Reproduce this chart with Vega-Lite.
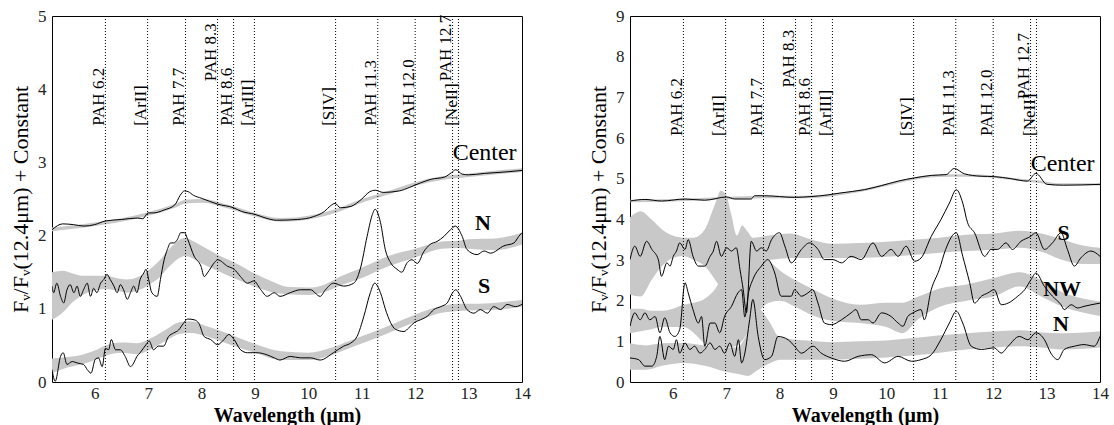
{
  "$schema": "https://vega.github.io/schema/vega-lite/v6.json",
  "padding": {"left": 9, "top": 6, "right": 5, "bottom": 0},
  "spacing": 56,
  "config": {
    "view": {"stroke": "#000", "strokeWidth": 1},
    "font": "Liberation Serif",
    "axis": {
      "labelFont": "Liberation Serif", "labelFontSize": 17, "labelColor": "#222",
      "titleFont": "Liberation Serif", "titleColor": "#000",
      "grid": false, "domain": false, "tickColor": "#000", "tickWidth": 1, "tickSize": 0,
      "minExtent": 0, "labelOverlap": false, "labelFlush": false, "zindex": 1
    }
  },
  "datasets": {
    "LS": [
      {"s":"Center","x":5.2,"y":2.08},{"s":"Center","x":5.4,"y":2.16},{"s":"Center","x":5.6,"y":2.15},{"s":"Center","x":5.8,"y":2.13},{"s":"Center","x":6.0,"y":2.15},{"s":"Center","x":6.2,"y":2.2},{"s":"Center","x":6.5,"y":2.22},{"s":"Center","x":6.8,"y":2.24},{"s":"Center","x":6.9,"y":2.23},{"s":"Center","x":7.0,"y":2.31},{"s":"Center","x":7.1,"y":2.31},{"s":"Center","x":7.3,"y":2.35},{"s":"Center","x":7.5,"y":2.42},{"s":"Center","x":7.6,"y":2.55},{"s":"Center","x":7.68,"y":2.61},{"s":"Center","x":7.75,"y":2.6},{"s":"Center","x":7.85,"y":2.55},{"s":"Center","x":8.0,"y":2.51},{"s":"Center","x":8.3,"y":2.43},{"s":"Center","x":8.6,"y":2.38},{"s":"Center","x":8.75,"y":2.33},{"s":"Center","x":9.0,"y":2.29},{"s":"Center","x":9.2,"y":2.24},{"s":"Center","x":9.4,"y":2.21},{"s":"Center","x":9.8,"y":2.22},{"s":"Center","x":10.1,"y":2.26},{"s":"Center","x":10.3,"y":2.33},{"s":"Center","x":10.42,"y":2.41},{"s":"Center","x":10.5,"y":2.44},{"s":"Center","x":10.6,"y":2.38},{"s":"Center","x":10.8,"y":2.4},{"s":"Center","x":11.0,"y":2.5},{"s":"Center","x":11.15,"y":2.6},{"s":"Center","x":11.25,"y":2.62},{"s":"Center","x":11.4,"y":2.59},{"s":"Center","x":11.7,"y":2.61},{"s":"Center","x":11.9,"y":2.66},{"s":"Center","x":12.1,"y":2.72},{"s":"Center","x":12.3,"y":2.77},{"s":"Center","x":12.55,"y":2.8},{"s":"Center","x":12.68,"y":2.86},{"s":"Center","x":12.76,"y":2.9},{"s":"Center","x":12.88,"y":2.84},{"s":"Center","x":13.0,"y":2.83},{"s":"Center","x":13.3,"y":2.85},{"s":"Center","x":13.7,"y":2.87},{"s":"Center","x":14.0,"y":2.89},
      {"s":"N","x":5.2,"y":1.31},{"s":"N","x":5.23,"y":1.22},{"s":"N","x":5.29,"y":1.35},{"s":"N","x":5.36,"y":1.17},{"s":"N","x":5.42,"y":1.08},{"s":"N","x":5.48,"y":1.26},{"s":"N","x":5.54,"y":1.33},{"s":"N","x":5.61,"y":1.22},{"s":"N","x":5.67,"y":1.31},{"s":"N","x":5.73,"y":1.17},{"s":"N","x":5.79,"y":1.26},{"s":"N","x":5.86,"y":1.35},{"s":"N","x":5.92,"y":1.17},{"s":"N","x":5.98,"y":1.28},{"s":"N","x":6.04,"y":1.22},{"s":"N","x":6.11,"y":1.35},{"s":"N","x":6.17,"y":1.4},{"s":"N","x":6.23,"y":1.47},{"s":"N","x":6.29,"y":1.4},{"s":"N","x":6.36,"y":1.31},{"s":"N","x":6.42,"y":1.22},{"s":"N","x":6.48,"y":1.33},{"s":"N","x":6.54,"y":1.26},{"s":"N","x":6.61,"y":1.13},{"s":"N","x":6.67,"y":1.22},{"s":"N","x":6.73,"y":1.31},{"s":"N","x":6.79,"y":1.22},{"s":"N","x":6.85,"y":1.4},{"s":"N","x":6.92,"y":1.49},{"s":"N","x":6.96,"y":1.54},{"s":"N","x":7.01,"y":1.4},{"s":"N","x":7.07,"y":1.22},{"s":"N","x":7.17,"y":1.17},{"s":"N","x":7.23,"y":1.4},{"s":"N","x":7.3,"y":1.67},{"s":"N","x":7.36,"y":1.81},{"s":"N","x":7.42,"y":1.9},{"s":"N","x":7.48,"y":1.9},{"s":"N","x":7.55,"y":1.95},{"s":"N","x":7.61,"y":2.04},{"s":"N","x":7.68,"y":2.04},{"s":"N","x":7.74,"y":1.95},{"s":"N","x":7.86,"y":1.72},{"s":"N","x":7.99,"y":1.58},{"s":"N","x":8.05,"y":1.44},{"s":"N","x":8.11,"y":1.49},{"s":"N","x":8.24,"y":1.63},{"s":"N","x":8.3,"y":1.67},{"s":"N","x":8.49,"y":1.58},{"s":"N","x":8.61,"y":1.54},{"s":"N","x":8.73,"y":1.44},{"s":"N","x":8.86,"y":1.35},{"s":"N","x":8.98,"y":1.38},{"s":"N","x":9.11,"y":1.26},{"s":"N","x":9.23,"y":1.17},{"s":"N","x":9.36,"y":1.22},{"s":"N","x":9.47,"y":1.17},{"s":"N","x":9.66,"y":1.22},{"s":"N","x":9.85,"y":1.26},{"s":"N","x":10.04,"y":1.26},{"s":"N","x":10.22,"y":1.17},{"s":"N","x":10.32,"y":1.26},{"s":"N","x":10.47,"y":1.35},{"s":"N","x":10.66,"y":1.31},{"s":"N","x":10.85,"y":1.35},{"s":"N","x":10.97,"y":1.54},{"s":"N","x":11.1,"y":1.99},{"s":"N","x":11.19,"y":2.27},{"s":"N","x":11.25,"y":2.36},{"s":"N","x":11.35,"y":2.18},{"s":"N","x":11.44,"y":1.81},{"s":"N","x":11.54,"y":1.63},{"s":"N","x":11.66,"y":1.54},{"s":"N","x":11.75,"y":1.5},{"s":"N","x":11.85,"y":1.63},{"s":"N","x":11.94,"y":1.67},{"s":"N","x":12.04,"y":1.62},{"s":"N","x":12.16,"y":1.78},{"s":"N","x":12.28,"y":1.88},{"s":"N","x":12.41,"y":1.92},{"s":"N","x":12.54,"y":1.99},{"s":"N","x":12.66,"y":2.08},{"s":"N","x":12.75,"y":2.13},{"s":"N","x":12.88,"y":1.99},{"s":"N","x":12.97,"y":1.81},{"s":"N","x":13.16,"y":1.74},{"s":"N","x":13.29,"y":1.79},{"s":"N","x":13.41,"y":1.76},{"s":"N","x":13.66,"y":1.86},{"s":"N","x":13.85,"y":1.9},{"s":"N","x":13.94,"y":1.99},{"s":"N","x":14.0,"y":2.04},
      {"s":"S","x":5.2,"y":0.17},{"s":"S","x":5.26,"y":0.01},{"s":"S","x":5.36,"y":0.35},{"s":"S","x":5.41,"y":0.4},{"s":"S","x":5.48,"y":0.24},{"s":"S","x":5.58,"y":0.28},{"s":"S","x":5.67,"y":0.26},{"s":"S","x":5.79,"y":0.24},{"s":"S","x":5.86,"y":0.17},{"s":"S","x":5.93,"y":0.12},{"s":"S","x":6.01,"y":0.31},{"s":"S","x":6.07,"y":0.33},{"s":"S","x":6.14,"y":0.21},{"s":"S","x":6.2,"y":0.46},{"s":"S","x":6.26,"y":0.44},{"s":"S","x":6.31,"y":0.58},{"s":"S","x":6.39,"y":0.44},{"s":"S","x":6.48,"y":0.44},{"s":"S","x":6.57,"y":0.35},{"s":"S","x":6.67,"y":0.21},{"s":"S","x":6.73,"y":0.26},{"s":"S","x":6.79,"y":0.35},{"s":"S","x":6.85,"y":0.4},{"s":"S","x":6.96,"y":0.51},{"s":"S","x":7.02,"y":0.56},{"s":"S","x":7.1,"y":0.44},{"s":"S","x":7.19,"y":0.49},{"s":"S","x":7.29,"y":0.49},{"s":"S","x":7.38,"y":0.62},{"s":"S","x":7.48,"y":0.67},{"s":"S","x":7.57,"y":0.71},{"s":"S","x":7.66,"y":0.8},{"s":"S","x":7.74,"y":0.86},{"s":"S","x":7.86,"y":0.85},{"s":"S","x":7.95,"y":0.8},{"s":"S","x":8.05,"y":0.62},{"s":"S","x":8.17,"y":0.58},{"s":"S","x":8.3,"y":0.51},{"s":"S","x":8.42,"y":0.58},{"s":"S","x":8.51,"y":0.65},{"s":"S","x":8.61,"y":0.58},{"s":"S","x":8.73,"y":0.44},{"s":"S","x":8.86,"y":0.4},{"s":"S","x":9.04,"y":0.4},{"s":"S","x":9.23,"y":0.37},{"s":"S","x":9.36,"y":0.33},{"s":"S","x":9.47,"y":0.3},{"s":"S","x":9.66,"y":0.35},{"s":"S","x":9.85,"y":0.33},{"s":"S","x":10.04,"y":0.33},{"s":"S","x":10.22,"y":0.3},{"s":"S","x":10.47,"y":0.4},{"s":"S","x":10.66,"y":0.49},{"s":"S","x":10.79,"y":0.53},{"s":"S","x":10.91,"y":0.62},{"s":"S","x":11.04,"y":0.9},{"s":"S","x":11.16,"y":1.22},{"s":"S","x":11.24,"y":1.35},{"s":"S","x":11.35,"y":1.22},{"s":"S","x":11.44,"y":1.0},{"s":"S","x":11.54,"y":0.81},{"s":"S","x":11.63,"y":0.72},{"s":"S","x":11.79,"y":0.69},{"s":"S","x":11.88,"y":0.74},{"s":"S","x":11.98,"y":0.81},{"s":"S","x":12.1,"y":0.85},{"s":"S","x":12.23,"y":0.9},{"s":"S","x":12.35,"y":0.99},{"s":"S","x":12.48,"y":1.03},{"s":"S","x":12.6,"y":1.08},{"s":"S","x":12.7,"y":1.22},{"s":"S","x":12.76,"y":1.26},{"s":"S","x":12.85,"y":1.17},{"s":"S","x":12.97,"y":0.99},{"s":"S","x":13.1,"y":0.94},{"s":"S","x":13.22,"y":0.99},{"s":"S","x":13.35,"y":0.94},{"s":"S","x":13.47,"y":1.03},{"s":"S","x":13.6,"y":0.99},{"s":"S","x":13.72,"y":1.06},{"s":"S","x":13.88,"y":1.03},{"s":"S","x":14.0,"y":1.06}
    ],
    "LB": [
      {"s":"Center","x":5.2,"lo":2.06,"hi":2.11},{"s":"Center","x":6.0,"lo":2.13,"hi":2.18},{"s":"Center","x":7.0,"lo":2.27,"hi":2.32},{"s":"Center","x":7.5,"lo":2.38,"hi":2.43},{"s":"Center","x":7.7,"lo":2.44,"hi":2.49},{"s":"Center","x":8.0,"lo":2.45,"hi":2.5},{"s":"Center","x":8.5,"lo":2.37,"hi":2.42},{"s":"Center","x":9.0,"lo":2.26,"hi":2.31},{"s":"Center","x":9.5,"lo":2.19,"hi":2.24},{"s":"Center","x":10.0,"lo":2.22,"hi":2.27},{"s":"Center","x":10.5,"lo":2.31,"hi":2.36},{"s":"Center","x":11.0,"lo":2.45,"hi":2.5},{"s":"Center","x":11.5,"lo":2.56,"hi":2.61},{"s":"Center","x":12.0,"lo":2.68,"hi":2.73},{"s":"Center","x":12.5,"lo":2.76,"hi":2.81},{"s":"Center","x":13.0,"lo":2.8,"hi":2.85},{"s":"Center","x":14.0,"lo":2.87,"hi":2.92},
      {"s":"N","x":5.2,"lo":0.85,"hi":1.5},{"s":"N","x":5.4,"lo":0.95,"hi":1.52},{"s":"N","x":5.6,"lo":1.1,"hi":1.48},{"s":"N","x":5.8,"lo":1.2,"hi":1.45},{"s":"N","x":6.0,"lo":1.25,"hi":1.45},{"s":"N","x":6.2,"lo":1.27,"hi":1.45},{"s":"N","x":6.4,"lo":1.25,"hi":1.42},{"s":"N","x":6.6,"lo":1.22,"hi":1.4},{"s":"N","x":6.8,"lo":1.25,"hi":1.43},{"s":"N","x":7.0,"lo":1.32,"hi":1.52},{"s":"N","x":7.2,"lo":1.42,"hi":1.65},{"s":"N","x":7.4,"lo":1.58,"hi":1.82},{"s":"N","x":7.6,"lo":1.7,"hi":1.95},{"s":"N","x":7.7,"lo":1.72,"hi":1.97},{"s":"N","x":7.8,"lo":1.7,"hi":1.94},{"s":"N","x":8.0,"lo":1.62,"hi":1.86},{"s":"N","x":8.3,"lo":1.52,"hi":1.74},{"s":"N","x":8.6,"lo":1.42,"hi":1.64},{"s":"N","x":9.0,"lo":1.3,"hi":1.48},{"s":"N","x":9.3,"lo":1.23,"hi":1.38},{"s":"N","x":9.6,"lo":1.2,"hi":1.3},{"s":"N","x":10.0,"lo":1.19,"hi":1.29},{"s":"N","x":10.3,"lo":1.23,"hi":1.33},{"s":"N","x":10.6,"lo":1.32,"hi":1.44},{"s":"N","x":11.0,"lo":1.42,"hi":1.56},{"s":"N","x":11.5,"lo":1.58,"hi":1.72},{"s":"N","x":12.0,"lo":1.7,"hi":1.82},{"s":"N","x":12.5,"lo":1.82,"hi":1.92},{"s":"N","x":12.8,"lo":1.83,"hi":1.93},{"s":"N","x":13.0,"lo":1.82,"hi":1.95},{"s":"N","x":13.5,"lo":1.8,"hi":1.96},{"s":"N","x":14.0,"lo":1.88,"hi":2.04},
      {"s":"S","x":5.2,"lo":0.12,"hi":0.32},{"s":"S","x":5.5,"lo":0.2,"hi":0.34},{"s":"S","x":5.8,"lo":0.25,"hi":0.38},{"s":"S","x":6.0,"lo":0.3,"hi":0.43},{"s":"S","x":6.2,"lo":0.36,"hi":0.5},{"s":"S","x":6.5,"lo":0.4,"hi":0.54},{"s":"S","x":6.8,"lo":0.38,"hi":0.53},{"s":"S","x":7.0,"lo":0.43,"hi":0.58},{"s":"S","x":7.3,"lo":0.55,"hi":0.7},{"s":"S","x":7.6,"lo":0.66,"hi":0.82},{"s":"S","x":7.8,"lo":0.67,"hi":0.83},{"s":"S","x":8.1,"lo":0.62,"hi":0.76},{"s":"S","x":8.5,"lo":0.52,"hi":0.66},{"s":"S","x":9.0,"lo":0.4,"hi":0.52},{"s":"S","x":9.5,"lo":0.3,"hi":0.42},{"s":"S","x":10.0,"lo":0.3,"hi":0.4},{"s":"S","x":10.4,"lo":0.36,"hi":0.46},{"s":"S","x":10.8,"lo":0.47,"hi":0.57},{"s":"S","x":11.2,"lo":0.58,"hi":0.68},{"s":"S","x":11.6,"lo":0.7,"hi":0.8},{"s":"S","x":12.0,"lo":0.82,"hi":0.92},{"s":"S","x":12.4,"lo":0.93,"hi":1.02},{"s":"S","x":12.8,"lo":0.97,"hi":1.07},{"s":"S","x":13.2,"lo":0.98,"hi":1.07},{"s":"S","x":13.6,"lo":0.99,"hi":1.09},{"s":"S","x":14.0,"lo":1.03,"hi":1.12}
    ],
    "RS": [
      {"s":"Center","x":5.2,"y":4.45},{"s":"Center","x":5.48,"y":4.49},{"s":"Center","x":5.79,"y":4.45},{"s":"Center","x":6.23,"y":4.5},{"s":"Center","x":6.6,"y":4.47},{"s":"Center","x":7.01,"y":4.55},{"s":"Center","x":7.16,"y":4.5},{"s":"Center","x":7.47,"y":4.5},{"s":"Center","x":7.53,"y":4.58},{"s":"Center","x":7.72,"y":4.58},{"s":"Center","x":8.28,"y":4.54},{"s":"Center","x":8.59,"y":4.56},{"s":"Center","x":8.9,"y":4.6},{"s":"Center","x":9.15,"y":4.65},{"s":"Center","x":9.59,"y":4.73},{"s":"Center","x":9.91,"y":4.83},{"s":"Center","x":10.22,"y":4.94},{"s":"Center","x":10.53,"y":5.02},{"s":"Center","x":10.84,"y":5.08},{"s":"Center","x":11.12,"y":5.1},{"s":"Center","x":11.27,"y":5.25},{"s":"Center","x":11.46,"y":5.12},{"s":"Center","x":11.77,"y":5.06},{"s":"Center","x":12.02,"y":5.05},{"s":"Center","x":12.33,"y":5.0},{"s":"Center","x":12.64,"y":4.94},{"s":"Center","x":12.8,"y":5.13},{"s":"Center","x":13.01,"y":4.86},{"s":"Center","x":13.32,"y":4.84},{"s":"Center","x":14.0,"y":4.86},
      {"s":"S","x":5.2,"y":3.01},{"s":"S","x":5.29,"y":3.34},{"s":"S","x":5.39,"y":3.09},{"s":"S","x":5.51,"y":3.46},{"s":"S","x":5.61,"y":3.26},{"s":"S","x":5.73,"y":3.01},{"s":"S","x":5.79,"y":2.6},{"s":"S","x":5.89,"y":2.93},{"s":"S","x":5.95,"y":2.85},{"s":"S","x":6.01,"y":3.09},{"s":"S","x":6.07,"y":3.22},{"s":"S","x":6.13,"y":3.42},{"s":"S","x":6.23,"y":3.26},{"s":"S","x":6.29,"y":3.5},{"s":"S","x":6.38,"y":3.09},{"s":"S","x":6.48,"y":2.85},{"s":"S","x":6.6,"y":2.85},{"s":"S","x":6.7,"y":3.09},{"s":"S","x":6.76,"y":3.22},{"s":"S","x":6.82,"y":3.46},{"s":"S","x":6.91,"y":3.09},{"s":"S","x":7.01,"y":3.3},{"s":"S","x":7.1,"y":3.22},{"s":"S","x":7.19,"y":3.3},{"s":"S","x":7.26,"y":2.76},{"s":"S","x":7.32,"y":2.27},{"s":"S","x":7.38,"y":1.7},{"s":"S","x":7.47,"y":3.46},{"s":"S","x":7.57,"y":3.22},{"s":"S","x":7.66,"y":3.3},{"s":"S","x":7.75,"y":3.22},{"s":"S","x":7.85,"y":3.5},{"s":"S","x":8.0,"y":3.67},{"s":"S","x":8.1,"y":3.34},{"s":"S","x":8.22,"y":2.93},{"s":"S","x":8.41,"y":3.26},{"s":"S","x":8.56,"y":3.42},{"s":"S","x":8.72,"y":3.26},{"s":"S","x":8.84,"y":3.01},{"s":"S","x":9.0,"y":3.01},{"s":"S","x":9.16,"y":2.93},{"s":"S","x":9.34,"y":3.09},{"s":"S","x":9.53,"y":3.01},{"s":"S","x":9.75,"y":3.42},{"s":"S","x":9.91,"y":3.09},{"s":"S","x":10.09,"y":3.26},{"s":"S","x":10.22,"y":3.09},{"s":"S","x":10.37,"y":3.34},{"s":"S","x":10.53,"y":2.97},{"s":"S","x":10.65,"y":3.05},{"s":"S","x":10.84,"y":3.58},{"s":"S","x":11.02,"y":3.99},{"s":"S","x":11.18,"y":4.4},{"s":"S","x":11.31,"y":4.73},{"s":"S","x":11.43,"y":4.4},{"s":"S","x":11.52,"y":3.92},{"s":"S","x":11.65,"y":3.67},{"s":"S","x":11.84,"y":3.09},{"s":"S","x":11.96,"y":3.26},{"s":"S","x":12.08,"y":3.26},{"s":"S","x":12.24,"y":3.42},{"s":"S","x":12.36,"y":3.26},{"s":"S","x":12.52,"y":3.46},{"s":"S","x":12.7,"y":3.58},{"s":"S","x":12.8,"y":3.67},{"s":"S","x":12.96,"y":3.26},{"s":"S","x":13.11,"y":3.42},{"s":"S","x":13.27,"y":3.67},{"s":"S","x":13.39,"y":3.26},{"s":"S","x":13.52,"y":2.85},{"s":"S","x":13.64,"y":3.05},{"s":"S","x":13.83,"y":3.22},{"s":"S","x":14.0,"y":3.09},
      {"s":"NW","x":5.2,"y":1.37},{"s":"NW","x":5.29,"y":1.7},{"s":"NW","x":5.39,"y":1.53},{"s":"NW","x":5.48,"y":1.7},{"s":"NW","x":5.57,"y":1.53},{"s":"NW","x":5.67,"y":1.61},{"s":"NW","x":5.76,"y":1.21},{"s":"NW","x":5.85,"y":1.58},{"s":"NW","x":5.95,"y":1.21},{"s":"NW","x":6.04,"y":1.12},{"s":"NW","x":6.13,"y":1.29},{"s":"NW","x":6.23,"y":2.44},{"s":"NW","x":6.29,"y":2.19},{"s":"NW","x":6.38,"y":1.78},{"s":"NW","x":6.48,"y":1.45},{"s":"NW","x":6.54,"y":1.61},{"s":"NW","x":6.6,"y":0.88},{"s":"NW","x":6.7,"y":1.45},{"s":"NW","x":6.79,"y":1.45},{"s":"NW","x":6.88,"y":1.21},{"s":"NW","x":6.97,"y":1.61},{"s":"NW","x":7.1,"y":1.86},{"s":"NW","x":7.22,"y":2.19},{"s":"NW","x":7.29,"y":2.27},{"s":"NW","x":7.35,"y":1.6},{"s":"NW","x":7.42,"y":2.2},{"s":"NW","x":7.5,"y":2.52},{"s":"NW","x":7.66,"y":2.85},{"s":"NW","x":7.78,"y":3.01},{"s":"NW","x":7.91,"y":2.68},{"s":"NW","x":8.03,"y":2.11},{"s":"NW","x":8.22,"y":2.11},{"s":"NW","x":8.28,"y":2.27},{"s":"NW","x":8.41,"y":2.11},{"s":"NW","x":8.53,"y":2.19},{"s":"NW","x":8.62,"y":2.27},{"s":"NW","x":8.72,"y":1.94},{"s":"NW","x":8.84,"y":1.45},{"s":"NW","x":8.97,"y":1.41},{"s":"NW","x":9.16,"y":1.53},{"s":"NW","x":9.34,"y":1.7},{"s":"NW","x":9.43,"y":1.78},{"s":"NW","x":9.53,"y":1.53},{"s":"NW","x":9.66,"y":1.53},{"s":"NW","x":9.75,"y":1.45},{"s":"NW","x":9.91,"y":1.7},{"s":"NW","x":10.09,"y":1.61},{"s":"NW","x":10.22,"y":1.45},{"s":"NW","x":10.31,"y":1.37},{"s":"NW","x":10.4,"y":1.61},{"s":"NW","x":10.5,"y":1.7},{"s":"NW","x":10.65,"y":1.78},{"s":"NW","x":10.71,"y":1.53},{"s":"NW","x":10.84,"y":2.27},{"s":"NW","x":10.99,"y":2.76},{"s":"NW","x":11.11,"y":3.26},{"s":"NW","x":11.31,"y":3.67},{"s":"NW","x":11.43,"y":3.09},{"s":"NW","x":11.56,"y":2.44},{"s":"NW","x":11.65,"y":1.94},{"s":"NW","x":11.78,"y":2.11},{"s":"NW","x":11.9,"y":2.19},{"s":"NW","x":12.02,"y":2.27},{"s":"NW","x":12.15,"y":1.9},{"s":"NW","x":12.28,"y":1.94},{"s":"NW","x":12.46,"y":2.11},{"s":"NW","x":12.59,"y":2.27},{"s":"NW","x":12.71,"y":2.52},{"s":"NW","x":12.8,"y":2.68},{"s":"NW","x":12.96,"y":2.35},{"s":"NW","x":13.11,"y":2.11},{"s":"NW","x":13.27,"y":1.9},{"s":"NW","x":13.33,"y":1.78},{"s":"NW","x":13.46,"y":1.9},{"s":"NW","x":13.58,"y":1.82},{"s":"NW","x":13.7,"y":1.86},{"s":"NW","x":14.0,"y":1.94},
      {"s":"N","x":5.2,"y":0.59},{"s":"N","x":5.36,"y":0.55},{"s":"N","x":5.48,"y":0.39},{"s":"N","x":5.61,"y":0.39},{"s":"N","x":5.7,"y":0.63},{"s":"N","x":5.76,"y":1.12},{"s":"N","x":5.85,"y":0.55},{"s":"N","x":5.92,"y":0.88},{"s":"N","x":6.01,"y":0.8},{"s":"N","x":6.07,"y":1.04},{"s":"N","x":6.13,"y":0.71},{"s":"N","x":6.23,"y":0.96},{"s":"N","x":6.32,"y":0.8},{"s":"N","x":6.41,"y":0.88},{"s":"N","x":6.51,"y":0.71},{"s":"N","x":6.6,"y":0.8},{"s":"N","x":6.7,"y":0.96},{"s":"N","x":6.79,"y":0.8},{"s":"N","x":6.88,"y":0.88},{"s":"N","x":6.97,"y":0.71},{"s":"N","x":7.07,"y":0.96},{"s":"N","x":7.16,"y":0.63},{"s":"N","x":7.23,"y":1.04},{"s":"N","x":7.29,"y":0.47},{"s":"N","x":7.35,"y":0.71},{"s":"N","x":7.44,"y":1.53},{"s":"N","x":7.5,"y":2.03},{"s":"N","x":7.6,"y":1.12},{"s":"N","x":7.72,"y":0.55},{"s":"N","x":7.85,"y":0.63},{"s":"N","x":7.97,"y":1.12},{"s":"N","x":8.16,"y":1.04},{"s":"N","x":8.28,"y":0.88},{"s":"N","x":8.41,"y":0.71},{"s":"N","x":8.63,"y":0.88},{"s":"N","x":8.78,"y":0.71},{"s":"N","x":8.97,"y":0.59},{"s":"N","x":9.22,"y":0.51},{"s":"N","x":9.47,"y":0.63},{"s":"N","x":9.72,"y":0.67},{"s":"N","x":9.97,"y":0.47},{"s":"N","x":10.22,"y":0.63},{"s":"N","x":10.47,"y":0.51},{"s":"N","x":10.65,"y":0.55},{"s":"N","x":10.84,"y":0.67},{"s":"N","x":11.02,"y":1.04},{"s":"N","x":11.18,"y":1.45},{"s":"N","x":11.31,"y":1.74},{"s":"N","x":11.43,"y":1.45},{"s":"N","x":11.59,"y":0.88},{"s":"N","x":11.78,"y":0.8},{"s":"N","x":12.02,"y":0.84},{"s":"N","x":12.15,"y":0.71},{"s":"N","x":12.28,"y":0.88},{"s":"N","x":12.49,"y":1.12},{"s":"N","x":12.65,"y":1.04},{"s":"N","x":12.8,"y":1.21},{"s":"N","x":12.96,"y":1.04},{"s":"N","x":13.08,"y":0.71},{"s":"N","x":13.21,"y":0.55},{"s":"N","x":13.33,"y":0.8},{"s":"N","x":13.52,"y":0.88},{"s":"N","x":13.7,"y":0.92},{"s":"N","x":13.89,"y":0.88},{"s":"N","x":14.0,"y":1.12}
    ],
    "RB": [
      {"s":"Center","x":5.2,"lo":4.42,"hi":4.48},{"s":"Center","x":6.0,"lo":4.44,"hi":4.5},{"s":"Center","x":7.0,"lo":4.49,"hi":4.55},{"s":"Center","x":7.7,"lo":4.52,"hi":4.58},{"s":"Center","x":8.5,"lo":4.52,"hi":4.58},{"s":"Center","x":9.0,"lo":4.57,"hi":4.63},{"s":"Center","x":9.5,"lo":4.67,"hi":4.73},{"s":"Center","x":10.0,"lo":4.82,"hi":4.88},{"s":"Center","x":10.5,"lo":4.97,"hi":5.03},{"s":"Center","x":11.0,"lo":5.04,"hi":5.1},{"s":"Center","x":11.5,"lo":5.05,"hi":5.11},{"s":"Center","x":12.0,"lo":5.02,"hi":5.08},{"s":"Center","x":12.5,"lo":4.94,"hi":5.0},{"s":"Center","x":12.9,"lo":4.89,"hi":4.95},{"s":"Center","x":13.2,"lo":4.83,"hi":4.89},{"s":"Center","x":14.0,"lo":4.83,"hi":4.89},
      {"s":"S","x":5.2,"lo":2.15,"hi":4.05},{"s":"S","x":5.4,"lo":2.1,"hi":4.2},{"s":"S","x":5.6,"lo":2.5,"hi":4.0},{"s":"S","x":5.8,"lo":2.85,"hi":3.75},{"s":"S","x":6.0,"lo":3.05,"hi":3.6},{"s":"S","x":6.2,"lo":3.1,"hi":3.55},{"s":"S","x":6.4,"lo":3.0,"hi":3.55},{"s":"S","x":6.6,"lo":2.85,"hi":3.75},{"s":"S","x":6.8,"lo":2.5,"hi":4.4},{"s":"S","x":6.9,"lo":2.3,"hi":4.7},{"s":"S","x":7.0,"lo":2.1,"hi":4.6},{"s":"S","x":7.1,"lo":2.1,"hi":4.1},{"s":"S","x":7.2,"lo":2.3,"hi":3.6},{"s":"S","x":7.3,"lo":2.6,"hi":3.85},{"s":"S","x":7.4,"lo":2.8,"hi":3.7},{"s":"S","x":7.5,"lo":2.95,"hi":3.55},{"s":"S","x":7.8,"lo":3.0,"hi":3.6},{"s":"S","x":8.2,"lo":3.05,"hi":3.65},{"s":"S","x":8.6,"lo":3.05,"hi":3.5},{"s":"S","x":9.0,"lo":3.05,"hi":3.4},{"s":"S","x":9.5,"lo":3.05,"hi":3.42},{"s":"S","x":10.0,"lo":3.08,"hi":3.45},{"s":"S","x":10.5,"lo":3.12,"hi":3.5},{"s":"S","x":11.0,"lo":3.18,"hi":3.55},{"s":"S","x":11.5,"lo":3.22,"hi":3.62},{"s":"S","x":12.0,"lo":3.25,"hi":3.65},{"s":"S","x":12.5,"lo":3.3,"hi":3.72},{"s":"S","x":12.9,"lo":3.2,"hi":3.65},{"s":"S","x":13.3,"lo":3.0,"hi":3.5},{"s":"S","x":13.7,"lo":2.9,"hi":3.35},{"s":"S","x":14.0,"lo":2.9,"hi":3.3},
      {"s":"NW","x":5.2,"lo":1.2,"hi":1.8},{"s":"NW","x":5.4,"lo":1.25,"hi":1.8},{"s":"NW","x":5.6,"lo":1.3,"hi":1.75},{"s":"NW","x":5.8,"lo":1.35,"hi":1.75},{"s":"NW","x":6.0,"lo":1.35,"hi":1.8},{"s":"NW","x":6.2,"lo":1.35,"hi":1.9},{"s":"NW","x":6.4,"lo":1.2,"hi":1.95},{"s":"NW","x":6.6,"lo":0.95,"hi":2.05},{"s":"NW","x":6.8,"lo":0.85,"hi":2.3},{"s":"NW","x":7.0,"lo":0.85,"hi":2.8},{"s":"NW","x":7.2,"lo":0.9,"hi":3.2},{"s":"NW","x":7.4,"lo":1.2,"hi":3.4},{"s":"NW","x":7.6,"lo":1.7,"hi":3.3},{"s":"NW","x":7.8,"lo":1.95,"hi":3.0},{"s":"NW","x":8.0,"lo":2.0,"hi":2.75},{"s":"NW","x":8.3,"lo":1.85,"hi":2.5},{"s":"NW","x":8.6,"lo":1.65,"hi":2.3},{"s":"NW","x":9.0,"lo":1.5,"hi":2.05},{"s":"NW","x":9.5,"lo":1.45,"hi":1.9},{"s":"NW","x":10.0,"lo":1.35,"hi":1.95},{"s":"NW","x":10.3,"lo":1.2,"hi":1.95},{"s":"NW","x":10.6,"lo":1.55,"hi":2.1},{"s":"NW","x":11.0,"lo":1.85,"hi":2.3},{"s":"NW","x":11.5,"lo":2.0,"hi":2.4},{"s":"NW","x":12.0,"lo":2.1,"hi":2.55},{"s":"NW","x":12.5,"lo":2.35,"hi":2.7},{"s":"NW","x":12.9,"lo":2.1,"hi":2.5},{"s":"NW","x":13.3,"lo":1.85,"hi":2.2},{"s":"NW","x":13.7,"lo":1.7,"hi":2.05},{"s":"NW","x":14.0,"lo":1.62,"hi":1.98},
      {"s":"N","x":5.2,"lo":0.3,"hi":0.95},{"s":"N","x":5.5,"lo":0.3,"hi":0.9},{"s":"N","x":5.8,"lo":0.4,"hi":0.95},{"s":"N","x":6.2,"lo":0.47,"hi":0.96},{"s":"N","x":6.6,"lo":0.4,"hi":0.9},{"s":"N","x":7.0,"lo":0.25,"hi":0.85},{"s":"N","x":7.2,"lo":0.2,"hi":0.85},{"s":"N","x":7.4,"lo":0.15,"hi":1.2},{"s":"N","x":7.6,"lo":0.3,"hi":1.8},{"s":"N","x":7.8,"lo":0.45,"hi":1.5},{"s":"N","x":8.0,"lo":0.55,"hi":1.1},{"s":"N","x":8.5,"lo":0.55,"hi":1.02},{"s":"N","x":9.0,"lo":0.55,"hi":0.98},{"s":"N","x":9.5,"lo":0.57,"hi":1.0},{"s":"N","x":10.0,"lo":0.6,"hi":1.02},{"s":"N","x":10.5,"lo":0.65,"hi":1.08},{"s":"N","x":11.0,"lo":0.72,"hi":1.15},{"s":"N","x":11.5,"lo":0.8,"hi":1.2},{"s":"N","x":12.0,"lo":0.85,"hi":1.24},{"s":"N","x":12.5,"lo":0.88,"hi":1.27},{"s":"N","x":12.9,"lo":0.85,"hi":1.22},{"s":"N","x":13.3,"lo":0.8,"hi":1.2},{"s":"N","x":13.7,"lo":0.82,"hi":1.22},{"s":"N","x":14.0,"lo":0.85,"hi":1.25}
    ],
    "F": [
      {"label":"PAH 6.2","x":6.2,"yl":3.5,"yr":6.05},
      {"label":"[ArII]","x":6.99,"yl":3.5,"yr":6.05},
      {"label":"PAH 7.7","x":7.7,"yl":3.5,"yr":6.05},
      {"label":"PAH 8.3","x":8.3,"yl":4.11,"yr":7.24},
      {"label":"PAH 8.6","x":8.6,"yl":3.5,"yr":6.05},
      {"label":"[ArIII]","x":8.99,"yl":3.5,"yr":6.05},
      {"label":"[SIV]","x":10.51,"yl":3.5,"yr":6.05},
      {"label":"PAH 11.3","x":11.3,"yl":3.5,"yr":6.05},
      {"label":"PAH 12.0","x":12.0,"yl":3.5,"yr":6.05},
      {"label":"[NeII]","x":12.81,"yl":3.5,"yr":6.05},
      {"label":"PAH 12.7","x":12.7,"yl":4.11,"yr":6.95}
    ],
    "LN": [
      {"s":"Center","x":13.3,"y":3.03},
      {"s":"N","x":13.27,"y":2.08},
      {"s":"S","x":13.29,"y":1.22}
    ],
    "RN": [
      {"s":"Center","x":13.3,"y":5.19},
      {"s":"S","x":13.32,"y":3.5},
      {"s":"NW","x":13.29,"y":2.11},
      {"s":"N","x":13.27,"y":1.25}
    ]
  },
  "hconcat": [
    {
      "width": 470, "height": 366,
      "layer": [
        {
          "data": {"name": "LB"},
          "mark": {"type": "area", "color": "#c8c8c8", "clip": true, "interpolate": "monotone"},
          "encoding": {
            "x": {"field": "x", "type": "quantitative", "scale": {"domain": [5.2, 14], "nice": false, "zero": false},
              "axis": {"orient": "bottom", "values": [5.2,5.4,5.6,5.8,6,6.2,6.4,6.6,6.8,7,7.2,7.4,7.6,7.8,8,8.2,8.4,8.6,8.8,9,9.2,9.4,9.6,9.8,10,10.2,10.4,10.6,10.8,11,11.2,11.4,11.6,11.8,12,12.2,12.4,12.6,12.8,13,13.2,13.4,13.6,13.8,14],
                "labelExpr": "abs(datum.value-round(datum.value))<0.001 ? format(datum.value, '.0f') : ''",
                "labelPadding": 3, "title": "Wavelength (μm)", "titleFontSize": 20, "titleFontWeight": "bold", "titlePadding": 4,
                "encode": {"ticks": {"update": {"y2": {"signal": "abs(datum.value-round(datum.value))<0.001 ? -5 : -2.5"}}}}}},
            "y": {"field": "lo", "type": "quantitative", "scale": {"domain": [0, 5], "nice": false, "zero": false},
              "axis": {"orient": "left", "values": [0,0.2,0.4,0.6,0.8,1,1.2,1.4,1.6,1.8,2,2.2,2.4,2.6,2.8,3,3.2,3.4,3.6,3.8,4,4.2,4.4,4.6,4.8,5],
                "labelExpr": "abs(datum.value-round(datum.value))<0.001 ? format(datum.value, '.0f') : ''",
                "labelPadding": 6, "title": "Fᵥ/Fᵥ(12.4μm) + Constant", "titleFontSize": 22, "titleFontWeight": "normal", "titlePadding": 5,
                "encode": {"ticks": {"update": {"x2": {"signal": "abs(datum.value-round(datum.value))<0.001 ? 5 : 2.5"}}}}}},
            "y2": {"field": "hi"},
            "detail": {"field": "s"}
          }
        },
        {
          "data": {"name": "F"},
          "mark": {"type": "rule", "color": "#000", "strokeWidth": 1, "strokeDash": [1, 2]},
          "encoding": {"x": {"field": "x", "type": "quantitative", "axis": null}}
        },
        {
          "data": {"name": "LS"},
          "mark": {"type": "line", "color": "#000", "strokeWidth": 1, "clip": true, "interpolate": "monotone"},
          "encoding": {
            "x": {"field": "x", "type": "quantitative",
              "axis": {"orient": "top", "labels": false, "title": null, "values": [5.2,5.4,5.6,5.8,6,6.2,6.4,6.6,6.8,7,7.2,7.4,7.6,7.8,8,8.2,8.4,8.6,8.8,9,9.2,9.4,9.6,9.8,10,10.2,10.4,10.6,10.8,11,11.2,11.4,11.6,11.8,12,12.2,12.4,12.6,12.8,13,13.2,13.4,13.6,13.8,14],
                "encode": {"ticks": {"update": {"y2": {"signal": "abs(datum.value-round(datum.value))<0.001 ? 5 : 2.5"}}}}}},
            "y": {"field": "y", "type": "quantitative",
              "axis": {"orient": "right", "labels": false, "title": null, "values": [0,0.2,0.4,0.6,0.8,1,1.2,1.4,1.6,1.8,2,2.2,2.4,2.6,2.8,3,3.2,3.4,3.6,3.8,4,4.2,4.4,4.6,4.8,5],
                "encode": {"ticks": {"update": {"x2": {"signal": "abs(datum.value-round(datum.value))<0.001 ? -5 : -2.5"}}}}}},
            "detail": {"field": "s"}
          }
        },
        {
          "data": {"name": "F"},
          "mark": {"type": "text", "angle": 270, "align": "left", "baseline": "alphabetic", "dy": -1.5, "font": "Liberation Serif", "fontSize": 17, "color": "#000"},
          "encoding": {
            "x": {"field": "x", "type": "quantitative", "axis": null},
            "y": {"field": "yl", "type": "quantitative", "axis": null},
            "text": {"field": "label"}
          }
        },
        {
          "data": {"name": "LN"},
          "transform": [{"filter": "datum.s == 'Center'"}],
          "mark": {"type": "text", "align": "center", "baseline": "alphabetic", "font": "Liberation Serif", "fontSize": 24, "color": "#000"},
          "encoding": {
            "x": {"field": "x", "type": "quantitative", "axis": null},
            "y": {"field": "y", "type": "quantitative", "axis": null},
            "text": {"field": "s"}
          }
        },
        {
          "data": {"name": "LN"},
          "transform": [{"filter": "datum.s != 'Center'"}],
          "mark": {"type": "text", "align": "center", "baseline": "alphabetic", "font": "Liberation Serif", "fontSize": 22, "fontWeight": "bold", "color": "#000"},
          "encoding": {
            "x": {"field": "x", "type": "quantitative", "axis": null},
            "y": {"field": "y", "type": "quantitative", "axis": null},
            "text": {"field": "s"}
          }
        }
      ],
      "resolve": {"axis": {"x": "independent", "y": "independent"}}
    },
    {
      "width": 470, "height": 366,
      "layer": [
        {
          "data": {"name": "RB"},
          "mark": {"type": "area", "color": "#c8c8c8", "clip": true, "interpolate": "monotone"},
          "encoding": {
            "x": {"field": "x", "type": "quantitative", "scale": {"domain": [5.2, 14], "nice": false, "zero": false},
              "axis": {"orient": "bottom", "values": [5.2,5.4,5.6,5.8,6,6.2,6.4,6.6,6.8,7,7.2,7.4,7.6,7.8,8,8.2,8.4,8.6,8.8,9,9.2,9.4,9.6,9.8,10,10.2,10.4,10.6,10.8,11,11.2,11.4,11.6,11.8,12,12.2,12.4,12.6,12.8,13,13.2,13.4,13.6,13.8,14],
                "labelExpr": "abs(datum.value-round(datum.value))<0.001 ? format(datum.value, '.0f') : ''",
                "labelPadding": 3, "title": "Wavelength (μm)", "titleFontSize": 20, "titleFontWeight": "bold", "titlePadding": 4,
                "encode": {"ticks": {"update": {"y2": {"signal": "abs(datum.value-round(datum.value))<0.001 ? -5 : -2.5"}}}}}},
            "y": {"field": "lo", "type": "quantitative", "scale": {"domain": [0, 9], "nice": false, "zero": false},
              "axis": {"orient": "left", "values": [0,0.2,0.4,0.6,0.8,1,1.2,1.4,1.6,1.8,2,2.2,2.4,2.6,2.8,3,3.2,3.4,3.6,3.8,4,4.2,4.4,4.6,4.8,5,5.2,5.4,5.6,5.8,6,6.2,6.4,6.6,6.8,7,7.2,7.4,7.6,7.8,8,8.2,8.4,8.6,8.8,9],
                "labelExpr": "abs(datum.value-round(datum.value))<0.001 ? format(datum.value, '.0f') : ''",
                "labelPadding": 6, "title": "Fᵥ/Fᵥ(12.4μm) + Constant", "titleFontSize": 22, "titleFontWeight": "normal", "titlePadding": 5,
                "encode": {"ticks": {"update": {"x2": {"signal": "abs(datum.value-round(datum.value))<0.001 ? 5 : 2.5"}}}}}},
            "y2": {"field": "hi"},
            "detail": {"field": "s"}
          }
        },
        {
          "data": {"name": "F"},
          "mark": {"type": "rule", "color": "#000", "strokeWidth": 1, "strokeDash": [1, 2]},
          "encoding": {"x": {"field": "x", "type": "quantitative", "axis": null}}
        },
        {
          "data": {"name": "RS"},
          "mark": {"type": "line", "color": "#000", "strokeWidth": 1, "clip": true, "interpolate": "monotone"},
          "encoding": {
            "x": {"field": "x", "type": "quantitative",
              "axis": {"orient": "top", "labels": false, "title": null, "values": [5.2,5.4,5.6,5.8,6,6.2,6.4,6.6,6.8,7,7.2,7.4,7.6,7.8,8,8.2,8.4,8.6,8.8,9,9.2,9.4,9.6,9.8,10,10.2,10.4,10.6,10.8,11,11.2,11.4,11.6,11.8,12,12.2,12.4,12.6,12.8,13,13.2,13.4,13.6,13.8,14],
                "encode": {"ticks": {"update": {"y2": {"signal": "abs(datum.value-round(datum.value))<0.001 ? 5 : 2.5"}}}}}},
            "y": {"field": "y", "type": "quantitative",
              "axis": {"orient": "right", "labels": false, "title": null, "values": [0,0.2,0.4,0.6,0.8,1,1.2,1.4,1.6,1.8,2,2.2,2.4,2.6,2.8,3,3.2,3.4,3.6,3.8,4,4.2,4.4,4.6,4.8,5,5.2,5.4,5.6,5.8,6,6.2,6.4,6.6,6.8,7,7.2,7.4,7.6,7.8,8,8.2,8.4,8.6,8.8,9],
                "encode": {"ticks": {"update": {"x2": {"signal": "abs(datum.value-round(datum.value))<0.001 ? -5 : -2.5"}}}}}},
            "detail": {"field": "s"}
          }
        },
        {
          "data": {"name": "F"},
          "mark": {"type": "text", "angle": 270, "align": "left", "baseline": "alphabetic", "dy": -1.5, "font": "Liberation Serif", "fontSize": 17, "color": "#000"},
          "encoding": {
            "x": {"field": "x", "type": "quantitative", "axis": null},
            "y": {"field": "yr", "type": "quantitative", "axis": null},
            "text": {"field": "label"}
          }
        },
        {
          "data": {"name": "RN"},
          "transform": [{"filter": "datum.s == 'Center'"}],
          "mark": {"type": "text", "align": "center", "baseline": "alphabetic", "font": "Liberation Serif", "fontSize": 24, "color": "#000"},
          "encoding": {
            "x": {"field": "x", "type": "quantitative", "axis": null},
            "y": {"field": "y", "type": "quantitative", "axis": null},
            "text": {"field": "s"}
          }
        },
        {
          "data": {"name": "RN"},
          "transform": [{"filter": "datum.s != 'Center'"}],
          "mark": {"type": "text", "align": "center", "baseline": "alphabetic", "font": "Liberation Serif", "fontSize": 22, "fontWeight": "bold", "color": "#000"},
          "encoding": {
            "x": {"field": "x", "type": "quantitative", "axis": null},
            "y": {"field": "y", "type": "quantitative", "axis": null},
            "text": {"field": "s"}
          }
        }
      ],
      "resolve": {"axis": {"x": "independent", "y": "independent"}}
    }
  ]
}
